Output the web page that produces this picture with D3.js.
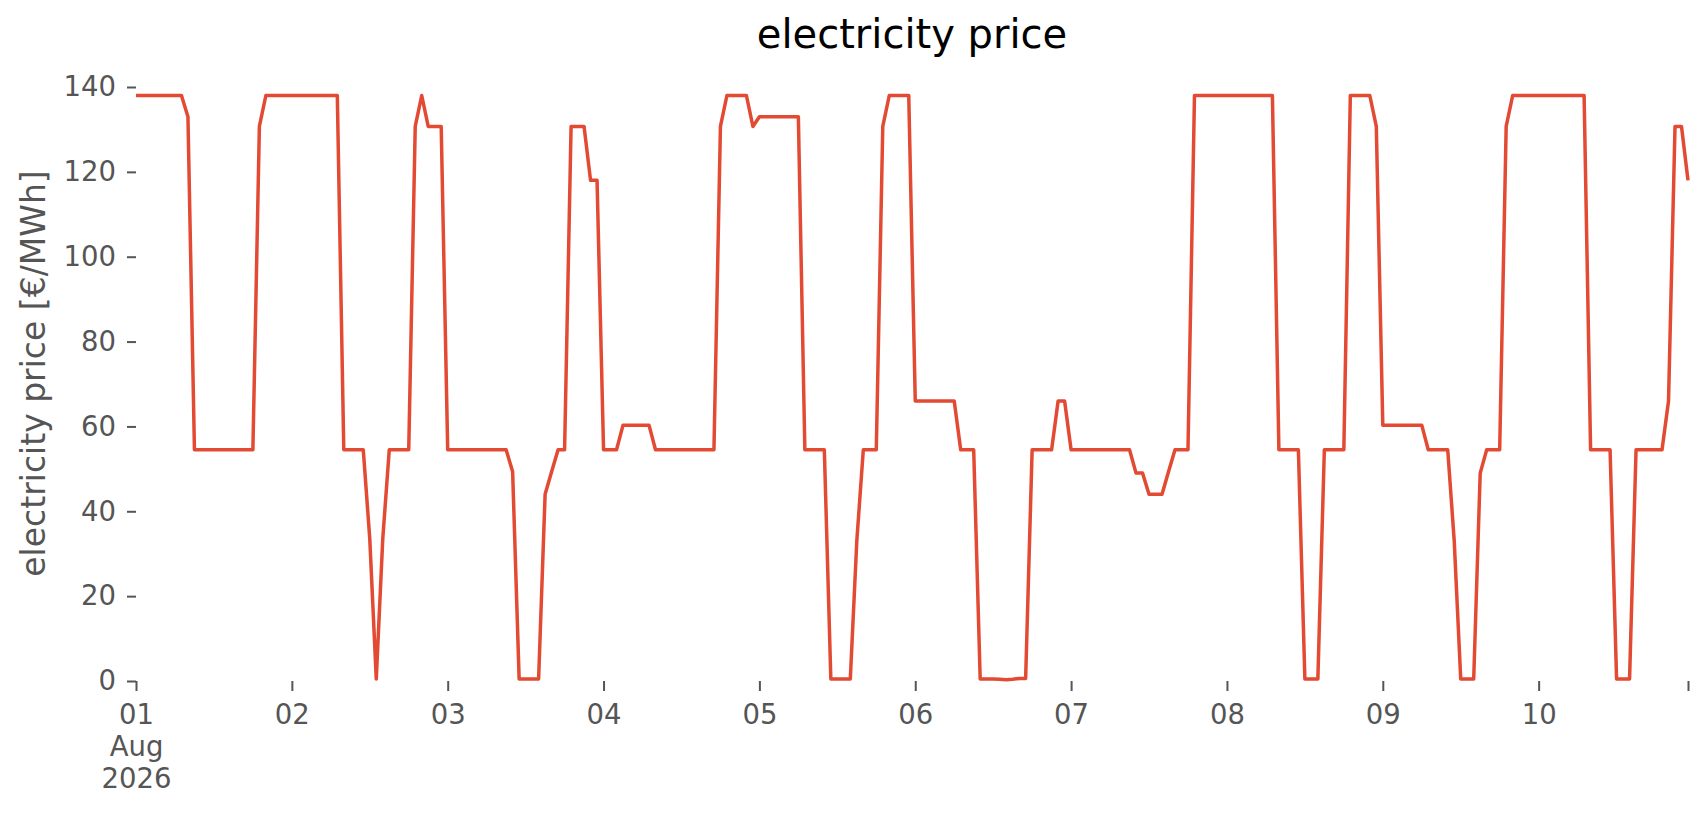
<!DOCTYPE html>
<html>
<head>
<meta charset="utf-8">
<script src="https://cdn.jsdelivr.net/npm/d3@7"></script>
<style>
  body { margin: 0; background: #fff; }
  text { font-family: "DejaVu Sans", sans-serif; }
</style>
</head>
<body>
<div id="chart"></div>
<script>
// hourly electricity price in €/MWh, one array per day (00:00 .. 23:00)
const aug01 = [138, 138, 138, 138, 138, 138, 138, 138, 133, 54.5, 54.5, 54.5, 54.5, 54.5, 54.5, 54.5, 54.5, 54.5, 54.5, 130.7, 138, 138, 138, 138];
const aug02 = [138, 138, 138, 138, 138, 138, 138, 138, 54.5, 54.5, 54.5, 54.5, 33.5, 0.5, 33.5, 54.5, 54.5, 54.5, 54.5, 130.7, 138, 130.7, 130.7, 130.7];
const aug03 = [54.5, 54.5, 54.5, 54.5, 54.5, 54.5, 54.5, 54.5, 54.5, 54.5, 49.3, 0.5, 0.5, 0.5, 0.5, 44, 49.3, 54.5, 54.5, 130.7, 130.7, 130.7, 118, 118];
const aug04 = [54.5, 54.5, 54.5, 60.3, 60.3, 60.3, 60.3, 60.3, 54.5, 54.5, 54.5, 54.5, 54.5, 54.5, 54.5, 54.5, 54.5, 54.5, 130.7, 138, 138, 138, 138, 130.7];
const aug05 = [133, 133, 133, 133, 133, 133, 133, 54.5, 54.5, 54.5, 54.5, 0.5, 0.5, 0.5, 0.5, 33, 54.5, 54.5, 54.5, 130.7, 138, 138, 138, 138];
const aug06 = [66, 66, 66, 66, 66, 66, 66, 54.5, 54.5, 54.5, 0.5, 0.5, 0.5, 0.4, 0.3, 0.4, 0.6, 0.6, 54.5, 54.5, 54.5, 54.5, 66, 66];
const aug07 = [54.5, 54.5, 54.5, 54.5, 54.5, 54.5, 54.5, 54.5, 54.5, 54.5, 49, 49, 44, 44, 44, 49.3, 54.5, 54.5, 54.5, 138, 138, 138, 138, 138];
const aug08 = [138, 138, 138, 138, 138, 138, 138, 138, 54.5, 54.5, 54.5, 54.5, 0.5, 0.5, 0.5, 54.5, 54.5, 54.5, 54.5, 138, 138, 138, 138, 130.7];
const aug09 = [60.3, 60.3, 60.3, 60.3, 60.3, 60.3, 60.3, 54.5, 54.5, 54.5, 54.5, 33, 0.5, 0.5, 0.5, 49, 54.5, 54.5, 54.5, 130.7, 138, 138, 138, 138];
const aug10 = [138, 138, 138, 138, 138, 138, 138, 138, 54.5, 54.5, 54.5, 54.5, 0.5, 0.5, 0.5, 54.5, 54.5, 54.5, 54.5, 54.5, 66, 130.7, 130.7, 118];

const startTime = "2026-08-01T00:00Z";
const tickDays = ["2026-08-01", "2026-08-02", "2026-08-03", "2026-08-04", "2026-08-05",
                  "2026-08-06", "2026-08-07", "2026-08-08", "2026-08-09", "2026-08-10"];
const tickLabels = ["01\nAug\n2026", "02", "03", "04", "05", "06", "07", "08", "09", "10"];
const yTicks = [0, 20, 40, 60, 80, 100, 120, 140];

const titleText = "electricity price";
const yLabelText = "electricity price [€/MWh]";

// Figure layout
const W = 1706, H = 815;
const plot = { left: 136, right: 1688, top: 87, bottom: 681 };
const tickFont = "27.5px";

const prices = [].concat(aug01, aug02, aug03, aug04, aug05, aug06, aug07, aug08, aug09, aug10);
const t0 = new Date(startTime);
const data = prices.map((p, i) => ({ time: d3.utcHour.offset(t0, i), price: p }));

const svg = d3.select("#chart").append("svg")
    .attr("width", W)
    .attr("height", H);

const x = d3.scaleUtc()
    .domain(d3.extent(data, d => d.time))
    .range([plot.left, plot.right]);

const y = d3.scaleLinear()
    .domain([0, 140])
    .range([plot.bottom, plot.top]);

// Title
svg.append("text")
    .attr("x", (plot.left + plot.right) / 2)
    .attr("y", 48)
    .attr("text-anchor", "middle")
    .attr("font-size", "40px")
    .attr("fill", "#000")
    .text(titleText);

// Y axis
const yAxis = svg.append("g")
    .attr("transform", "translate(" + plot.left + ",0)")
    .call(d3.axisLeft(y).tickValues(yTicks).tickSize(9).tickPadding(11));
yAxis.select(".domain").remove();
yAxis.selectAll(".tick line").attr("stroke", "#555").attr("stroke-width", 2);
yAxis.selectAll(".tick text")
    .attr("fill", "#555")
    .attr("font-size", tickFont)
    .attr("font-family", "DejaVu Sans");

svg.append("text")
    .attr("transform", "translate(45," + ((plot.bottom + 66) / 2) + ") rotate(-90)")
    .attr("text-anchor", "middle")
    .attr("font-size", "33px")
    .attr("fill", "#555")
    .text(yLabelText);

// X axis: a tick at each midnight plus one at the last hour
const lastTime = data[data.length - 1].time;
const xTickValues = tickDays.map(d => new Date(d + "T00:00Z")).concat([lastTime]);
const labelFor = t => {
    const i = tickDays.indexOf(t.toISOString().slice(0, 10));
    return (i >= 0 && +t === +new Date(tickDays[i] + "T00:00Z")) ? tickLabels[i] : "";
};

const xAxis = svg.append("g")
    .attr("transform", "translate(0," + plot.bottom + ")")
    .call(d3.axisBottom(x).tickValues(xTickValues).tickSize(10).tickPadding(13).tickFormat(labelFor));
xAxis.select(".domain").remove();
xAxis.selectAll(".tick line").attr("stroke", "#555").attr("stroke-width", 2);
xAxis.selectAll(".tick text")
    .attr("fill", "#555")
    .attr("font-size", tickFont)
    .attr("font-family", "DejaVu Sans")
    .attr("dy", null)
    .each(function() {
        const t = d3.select(this);
        const lines = t.text().split("\n");
        t.text(null);
        lines.forEach((l, i) => {
            t.append("tspan")
                .attr("x", 0)
                .attr("dy", i === 0 ? "0.71em" : "1.18em")
                .text(l);
        });
    });

// Price line
const line = d3.line()
    .x(d => x(d.time))
    .y(d => y(d.price));

svg.append("path")
    .datum(data)
    .attr("fill", "none")
    .attr("stroke", "#E24A33")
    .attr("stroke-width", 3.5)
    .attr("stroke-linejoin", "round")
    .attr("d", line);
</script>
</body>
</html>
